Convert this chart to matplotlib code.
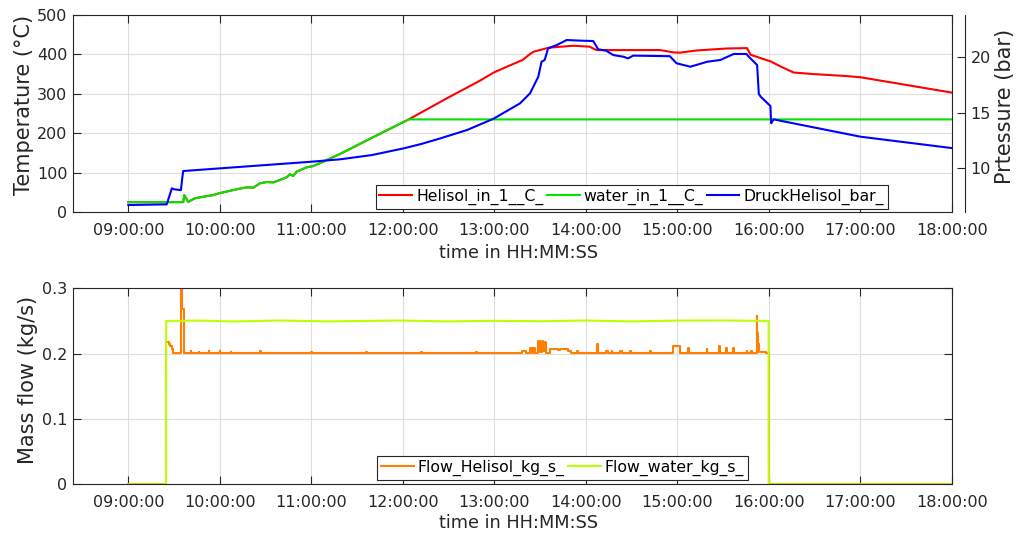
import matplotlib
matplotlib.use("Agg")
import matplotlib.pyplot as plt
from matplotlib.ticker import FuncFormatter, FixedLocator

plt.rcParams['font.family'] = ['DejaVu Sans']

# ---------------- data (time in decimal hours) ----------------
water_t = [9.0, 9.40, 9.60, 9.612, 9.655, 9.729, 9.783, 9.929, 9.991, 10.184, 10.293,
           10.365, 10.439, 10.512, 10.584, 10.657, 10.73, 10.766, 10.802, 10.839,
           10.949, 11.021, 11.13, 11.312, 11.676, 12.064, 18.0]
water_T = [25, 25, 25, 43, 26, 34.8, 37.2, 43, 47.4, 57.6, 62.6,
           61.8, 72.8, 76.1, 75.2, 81.2, 88, 95.6, 91.4, 102.3,
           113.4, 116.7, 127.7, 147.2, 190, 235, 235]

heli_t = water_t[:-1] + [12.5, 12.84, 12.993, 13.139, 13.31, 13.39, 13.43, 13.53, 13.594,
                         13.86, 14.04, 14.116, 14.52, 14.81, 14.96, 15.03, 15.21, 15.54,
                         15.76, 15.80, 16.02, 16.13, 16.27, 16.49, 16.85, 17.0, 18.0]
heli_T = water_T[:-1] + [291, 333, 354, 369, 386, 401, 407, 413, 417,
                         422, 419.6, 411, 411, 411, 405, 404.5, 410, 415,
                         416, 399, 382, 369, 354, 350, 345, 342, 303]

press_t = [9.0, 9.42, 9.476, 9.50, 9.576, 9.587, 9.60, 11.0, 11.317, 11.66, 12.01, 12.2,
           12.41, 12.70, 12.99, 13.28, 13.39, 13.48, 13.515, 13.55, 13.587, 13.68, 13.79,
           13.95, 14.08, 14.134, 14.22, 14.30, 14.41, 14.46, 14.516, 14.917, 14.99,
           15.142, 15.325, 15.47, 15.615, 15.754, 15.78, 15.871, 15.889, 15.91, 16.016,
           16.024, 16.052, 16.126, 17.0, 18.0]
press_P = [6.66, 6.72, 8.17, 8.08, 8.01, 8.9, 9.73, 10.57, 10.79, 11.17, 11.78, 12.17,
           12.68, 13.43, 14.45, 15.84, 16.75, 18.25, 19.6, 19.76, 20.81, 21.1, 21.56,
           21.5, 21.47, 20.72, 20.6, 20.2, 20.05, 19.9, 20.15, 20.1, 19.46,
           19.15, 19.6, 19.76, 20.3, 20.3, 20.05, 19.3, 16.7, 16.44, 15.6,
           14.04, 14.4, 14.27, 12.83, 11.8]

# mass flows (step series, value holds until next time)
flow_heli_t = [9.0, 9.414, 9.44, 9.46, 9.475, 9.49, 9.578, 9.592, 9.604,
               9.68, 9.685, 9.77, 9.775, 9.88, 9.885, 10.0, 10.005, 10.12, 10.125,
               10.44, 10.45, 11.0, 11.005, 11.6, 11.605, 12.2, 12.205, 12.8, 12.81,
               13.3, 13.35, 13.388, 13.41, 13.42, 13.44, 13.478, 13.50, 13.515, 13.535,
               13.552, 13.56, 13.606, 13.70, 13.72, 13.80, 13.825, 13.84, 13.898, 13.91,
               14.116, 14.13, 14.225, 14.24, 14.28, 14.29, 14.37, 14.39, 14.48, 14.49,
               14.70, 14.71, 14.953, 15.026, 15.117, 15.127, 15.318, 15.328, 15.455, 15.465,
               15.536, 15.546, 15.608, 15.618, 15.755, 15.765, 15.80, 15.81,
               15.864, 15.872, 15.882, 15.895, 15.973, 16.0, 18.0]
flow_heli_v = [0.0, 0.218, 0.215, 0.212, 0.207, 0.2015, 0.32, 0.268, 0.2015,
               0.2035, 0.2015, 0.203, 0.2015, 0.2035, 0.2015, 0.2035, 0.2015, 0.203, 0.2015,
               0.2035, 0.2015, 0.203, 0.2015, 0.203, 0.2015, 0.2025, 0.2015, 0.203, 0.2015,
               0.2045, 0.2015, 0.2083, 0.2015, 0.2083, 0.2015, 0.2199, 0.203, 0.2199, 0.2035,
               0.2184, 0.2015, 0.2067, 0.2055, 0.2067, 0.2040, 0.2045, 0.2015, 0.204, 0.2015,
               0.2145, 0.2015, 0.2046, 0.2015, 0.2046, 0.2015, 0.2040, 0.2015, 0.2040, 0.2015,
               0.2035, 0.2015, 0.2118, 0.2015, 0.2083, 0.2015, 0.2067, 0.2015, 0.2118, 0.2015,
               0.2083, 0.2015, 0.2083, 0.2015, 0.2046, 0.2015, 0.2046, 0.2015,
               0.258, 0.231, 0.215, 0.2030, 0.2015, 0.0, 0.0]

flow_water_t = [9.0, 9.412, 9.414, 9.8, 10.15, 10.65, 11.2, 11.95, 12.5, 13.0, 13.5,
                14.0, 14.5, 15.0, 15.5, 15.996, 15.998, 18.0]
flow_water_v = [0.0, 0.0, 0.250, 0.2506, 0.2492, 0.2507, 0.2493, 0.2507, 0.2493, 0.2502, 0.2496,
                0.2507, 0.2493, 0.2506, 0.2508, 0.2500, 0.0, 0.0]

hour_ticks = [9, 10, 11, 12, 13, 14, 15, 16, 17, 18]
temp_ticks = [0, 100, 200, 300, 400, 500]
press_ticks = [10, 15, 20]
flow_ticks = [0, 0.1, 0.2, 0.3]

# ---------------- style ----------------
W, H = 1018, 534
fig = plt.figure(figsize=(W / 100, H / 100), dpi=100)
TXT = '#262626'
FS = 11.5
XLFS = 12.8
LEGFS = 11.3
LFS = 15
GRID = '#dedede'


def hms(v, pos=None):
    s = int(round(v * 3600))
    return f"{s // 3600:02d}:{(s % 3600) // 60:02d}:{s % 60:02d}"


def style(ax, label_y):
    ax.set_xlim(8.396, 18.0)
    ax.xaxis.set_major_locator(FixedLocator(hour_ticks))
    ax.xaxis.set_major_formatter(FuncFormatter(hms))
    ax.tick_params(direction='in', length=5.5, width=0.8, top=True, right=True,
                   labelsize=FS, colors=TXT, pad=4)
    ax.tick_params(axis='x', pad=8)
    ax.grid(True, color=GRID, linewidth=0.8)
    ax.set_axisbelow(True)
    for s in ax.spines.values():
        s.set_color(TXT)
        s.set_linewidth(0.8)
    ax.set_xlabel('time in HH:MM:SS', fontsize=XLFS, color=TXT)
    ax.xaxis.set_label_coords((519 - 73) / 879, label_y)


ax1 = fig.add_axes([73 / W, 1 - 212 / H, 879 / W, 197 / H])
ax2 = fig.add_axes([73 / W, 1 - 484.3 / H, 879 / W, 196 / H])

# ---- top plot ----
style(ax1, -0.16)
l1, = ax1.plot(heli_t, heli_T, color='#ff0000', lw=1.5, label='Helisol_in_1__C_')
l2, = ax1.plot(water_t, water_T, color='#00e600', lw=1.5, label='water_in_1__C_')
ax1.set_ylim(0, 500)
ax1.set_yticks(temp_ticks)
ax1.set_ylabel('Temperature (°C)', fontsize=LFS, color=TXT, labelpad=2, y=0.543)

ax1r = ax1.twinx()
l3, = ax1r.plot(press_t, press_P, color='#0000ff', lw=1.5, label='DruckHelisol_bar_')
ax1r.set_ylim(6.03, 23.82)
ax1r.set_yticks(press_ticks)
for k in ['left', 'top', 'bottom']:
    ax1r.spines[k].set_visible(False)
ax1r.spines['right'].set_position(('outward', 9.4))
ax1r.spines['right'].set_color(TXT)
ax1r.spines['right'].set_linewidth(0.8)
ax1r.tick_params(axis='y', direction='in', length=5.5, width=0.8, labelsize=FS,
                 colors=TXT, pad=4)
ax1r.set_ylabel('Prtessure (bar)', fontsize=LFS, color=TXT, labelpad=3, y=0.538)

leg1 = ax1r.legend(handles=[l1, l2, l3], ncol=3, fontsize=LEGFS, loc='lower right',
                   bbox_to_anchor=(0.927, 0.015), borderaxespad=0, fancybox=False,
                   edgecolor='#262626', framealpha=1, borderpad=0.25,
                   handlelength=2.1, handletextpad=0.25, columnspacing=0.2)
leg1.get_frame().set_linewidth(0.8)

# ---- bottom plot ----
style(ax2, -0.15)
l4, = ax2.plot(flow_heli_t, flow_heli_v, color='#ff8000', lw=1.5, drawstyle='steps-post',
               label='Flow_Helisol_kg_s_')
l5, = ax2.plot(flow_water_t, flow_water_v, color='#bbff00', lw=1.5,
               label='Flow_water_kg_s_')
ax2.set_ylim(0, 0.3)
ax2.set_yticks(flow_ticks)
ax2.yaxis.set_major_formatter(FuncFormatter(lambda v, p: '0' if v == 0 else f'{v:g}'))
ax2.set_ylabel('Mass flow (kg/s)', fontsize=LFS, color=TXT, labelpad=3, y=0.532)
leg2 = ax2.legend(handles=[l4, l5], ncol=2, fontsize=LEGFS, loc='lower right',
                  bbox_to_anchor=(0.768, 0.022), borderaxespad=0, fancybox=False,
                  edgecolor='#262626', framealpha=1, borderpad=0.25,
                  handlelength=2.1, handletextpad=0.25, columnspacing=0.2)
leg2.get_frame().set_linewidth(0.8)

fig.savefig('out.png', dpi=100)
